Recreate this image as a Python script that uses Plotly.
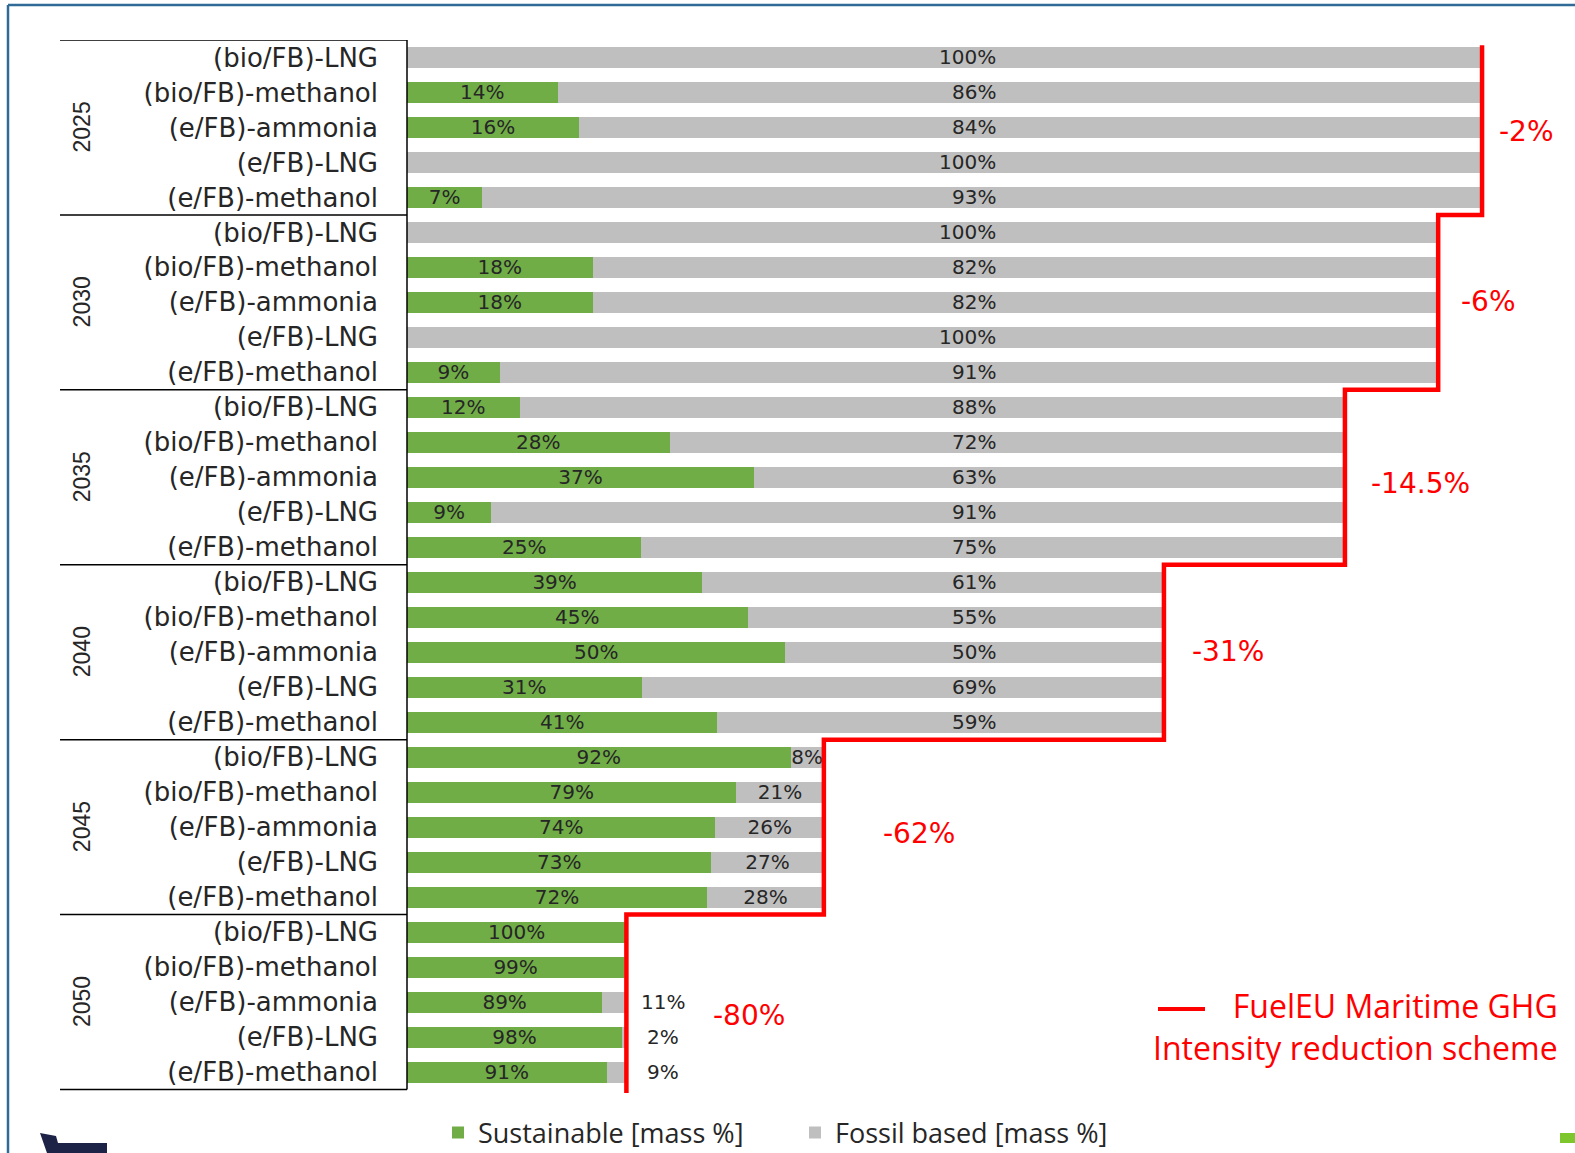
import plotly.graph_objects as go

# ---- data -------------------------------------------------------------
years = ["2025", "2030", "2035", "2040", "2045", "2050"]
fuels = ["(bio/FB)-LNG", "(bio/FB)-methanol", "(e/FB)-ammonia",
         "(e/FB)-LNG", "(e/FB)-methanol"]
# FuelEU Maritime GHG intensity reduction per period [%]
ghg_reduction = [2, 6, 14.5, 31, 62, 80]
# sustainable / fossil based share of the fuel blend [mass %]
sustainable_share = [
    [0, 14, 16, 0, 7],
    [0, 18, 18, 0, 9],
    [12, 28, 37, 9, 25],
    [39, 45, 50, 31, 41],
    [92, 79, 74, 73, 72],
    [100, 99, 89, 98, 91],
]
fossil_share = [
    [100, 86, 84, 100, 93],
    [100, 82, 82, 100, 91],
    [88, 72, 63, 91, 75],
    [61, 55, 50, 69, 59],
    [8, 21, 26, 27, 28],
    [0, 1, 11, 2, 9],
]

GREEN = "#70AD47"
GREY = "#BFBFBF"
RED = "#FF0000"
TXT = "#262626"
FRAME = "#2F6B96"
LABEL_FONT = "DejaVu Sans"

W, H = 1575, 1153
ROW_PX = 34.99
ML, MR, MT = 407, 0, 40
Y_RANGE = [29.6, -0.5]
PH = round(ROW_PX * (Y_RANGE[0] - Y_RANGE[1]))
MB = H - MT - PH
PW = W - ML - MR
PX_PER_UNIT = 10.97
X_MAX = PW / PX_PER_UNIT


def xp(px):
    """pixel column -> paper x"""
    return (px - ML) / PW


def yp(py):
    """pixel row -> paper y"""
    return (H - MB - py) / PH


# ---- bar geometry: every bar is scaled to the remaining GHG intensity ----
rows, green_x, grey_x, green_txt, grey_inside = [], [], [], [], []
for g, yr in enumerate(years):
    scale = (100 - ghg_reduction[g]) / 100
    for f in range(len(fuels)):
        rows.append(g * 5 + f)
        s, fo = sustainable_share[g][f], fossil_share[g][f]
        green_x.append(s * scale)
        grey_x.append(fo * scale)
        green_txt.append(f"{s}%" if s > 0 else "")
        grey_inside.append(f"{fo}%" if (yr == "2045" and fo > 0) else "")

tick_text = [fuels[i % 5] for i in range(30)]
bar_font = dict(family=LABEL_FONT, size=20, color=TXT)

fig = go.Figure()
fig.add_trace(go.Bar(
    y=rows, x=green_x, orientation="h", name="Sustainable [mass %]",
    marker=dict(color=GREEN, line=dict(width=0)), width=0.6,
    text=green_txt, textposition="inside", insidetextanchor="middle",
    constraintext="none", textfont=bar_font, hoverinfo="skip",
))
fig.add_trace(go.Bar(
    y=rows, x=grey_x, orientation="h", name="Fossil based [mass %]",
    marker=dict(color=GREY, line=dict(width=0)), width=0.6,
    text=grey_inside, textposition="inside", insidetextanchor="middle",
    constraintext="none", textfont=bar_font, hoverinfo="skip",
))

# ---- FuelEU step line ----
step_x, step_y = [], []
for g, red in enumerate(ghg_reduction):
    xv = 100 - red
    top = -0.35 if g == 0 else g * 5 - 0.5
    bot = 29.6 if g == len(years) - 1 else g * 5 + 4.5
    step_x += [xv, xv]
    step_y += [top, bot]
fig.add_trace(go.Scatter(
    x=step_x, y=step_y, mode="lines", line=dict(color=RED, width=4.5),
    showlegend=False, hoverinfo="skip",
))

annotations = []
shapes = []

# fossil labels for 2025-2040, aligned in one column
for g in range(4):
    for f in range(5):
        annotations.append(dict(
            x=53.85, y=g * 5 + f, xref="x", yref="y", xanchor="right",
            yanchor="middle", showarrow=False, text=f"{fossil_share[g][f]}%",
            font=bar_font))
# fossil labels for 2050, right of the bars
g = 5
for f in range(5):
    v = fossil_share[g][f]
    if v >= 2:
        annotations.append(dict(
            x=(100 - ghg_reduction[g]) + 3.35, y=g * 5 + f, xref="x", yref="y",
            xanchor="center", yanchor="middle", showarrow=False, text=f"{v}%",
            font=bar_font))

# reduction labels next to the step line
red_offset = [1.4, 1.9, 2.2, 2.4, 5.2, 7.7]
red_row = [2.12, 6.98, 12.17, 16.97, 22.19, 27.39]
for g, red in enumerate(ghg_reduction):
    annotations.append(dict(
        x=100 - red + red_offset[g], y=red_row[g], xref="x", yref="y",
        xanchor="left", yanchor="middle", showarrow=False,
        text=f"-{red:g}%", font=dict(family=LABEL_FONT, size=28, color=RED)))

# year group labels and dividers in the category area
for g, yr in enumerate(years):
    annotations.append(dict(
        x=xp(82), y=g * 5 + 2, xref="paper", yref="y", textangle=-90,
        xanchor="center", yanchor="middle", showarrow=False, text=yr,
        font=dict(family="Liberation Sans Narrow, Liberation Sans", size=23,
                  color=TXT)))
for b in range(7):
    shapes.append(dict(type="line", xref="paper", yref="y", x0=xp(60), x1=0,
                       y0=b * 5 - 0.5, y1=b * 5 - 0.5,
                       line=dict(color="#000000", width=1.5)))
shapes.append(dict(type="line", xref="paper", yref="y", x0=0, x1=0,
                   y0=-0.5, y1=29.5, line=dict(color="#000000", width=1.5)))

# legend entry for the step line
shapes.append(dict(type="line", xref="paper", yref="paper", x0=xp(1158),
                   x1=xp(1205), y0=yp(1009), y1=yp(1009),
                   line=dict(color=RED, width=4)))
annotations.append(dict(
    x=xp(1560), y=yp(1026), xref="paper", yref="paper", xanchor="right",
    yanchor="middle", align="right", showarrow=False,
    text="FuelEU Maritime GHG<br>Intensity reduction scheme",
    font=dict(family="Open Sans", size=32, color=RED)))

# page frame and logo remnants along the bottom edge
shapes.append(dict(type="line", xref="paper", yref="paper", x0=xp(8), x1=xp(W),
                   y0=yp(5), y1=yp(5), line=dict(color=FRAME, width=2.5)))
shapes.append(dict(type="line", xref="paper", yref="paper", x0=xp(8), x1=xp(8),
                   y0=yp(5), y1=yp(H), line=dict(color=FRAME, width=2.5)))
logo_pts = [(40, 1133), (56, 1136), (58, 1143), (107, 1143), (107, 1153),
            (47, 1153)]
path = "M " + " L ".join(f"{xp(x):.5f},{yp(y):.5f}" for x, y in logo_pts) + " Z"
shapes.append(dict(type="path", xref="paper", yref="paper", path=path,
                   fillcolor="#1C2346", line=dict(width=0)))
shapes.append(dict(type="rect", xref="paper", yref="paper", x0=xp(1560),
                   x1=xp(W), y0=yp(1143), y1=yp(1133),
                   fillcolor="#7DC62E", line=dict(width=0)))

fig.update_layout(
    width=W, height=H, barmode="stack", bargap=0.4,
    margin=dict(l=ML, r=MR, t=MT, b=MB, autoexpand=False),
    plot_bgcolor="white", paper_bgcolor="white",
    font=dict(family=LABEL_FONT, color=TXT),
    xaxis=dict(range=[0, X_MAX], visible=False, showgrid=False, zeroline=False),
    yaxis=dict(range=Y_RANGE, tickmode="array", tickvals=list(range(30)),
               ticktext=tick_text, ticks="", showgrid=False, zeroline=False,
               ticklabelstandoff=28, automargin=False,
               tickfont=dict(family=LABEL_FONT, size=26, color=TXT)),
    legend=dict(orientation="h", x=xp(438), y=yp(1133), xanchor="left",
                yanchor="middle", entrywidth=312, entrywidthmode="pixels",
                font=dict(family="Open Sans", size=27, color=TXT),
                traceorder="normal", bgcolor="rgba(0,0,0,0)"),
    annotations=annotations, shapes=shapes,
    showlegend=True,
)

fig.write_html("out.html")
